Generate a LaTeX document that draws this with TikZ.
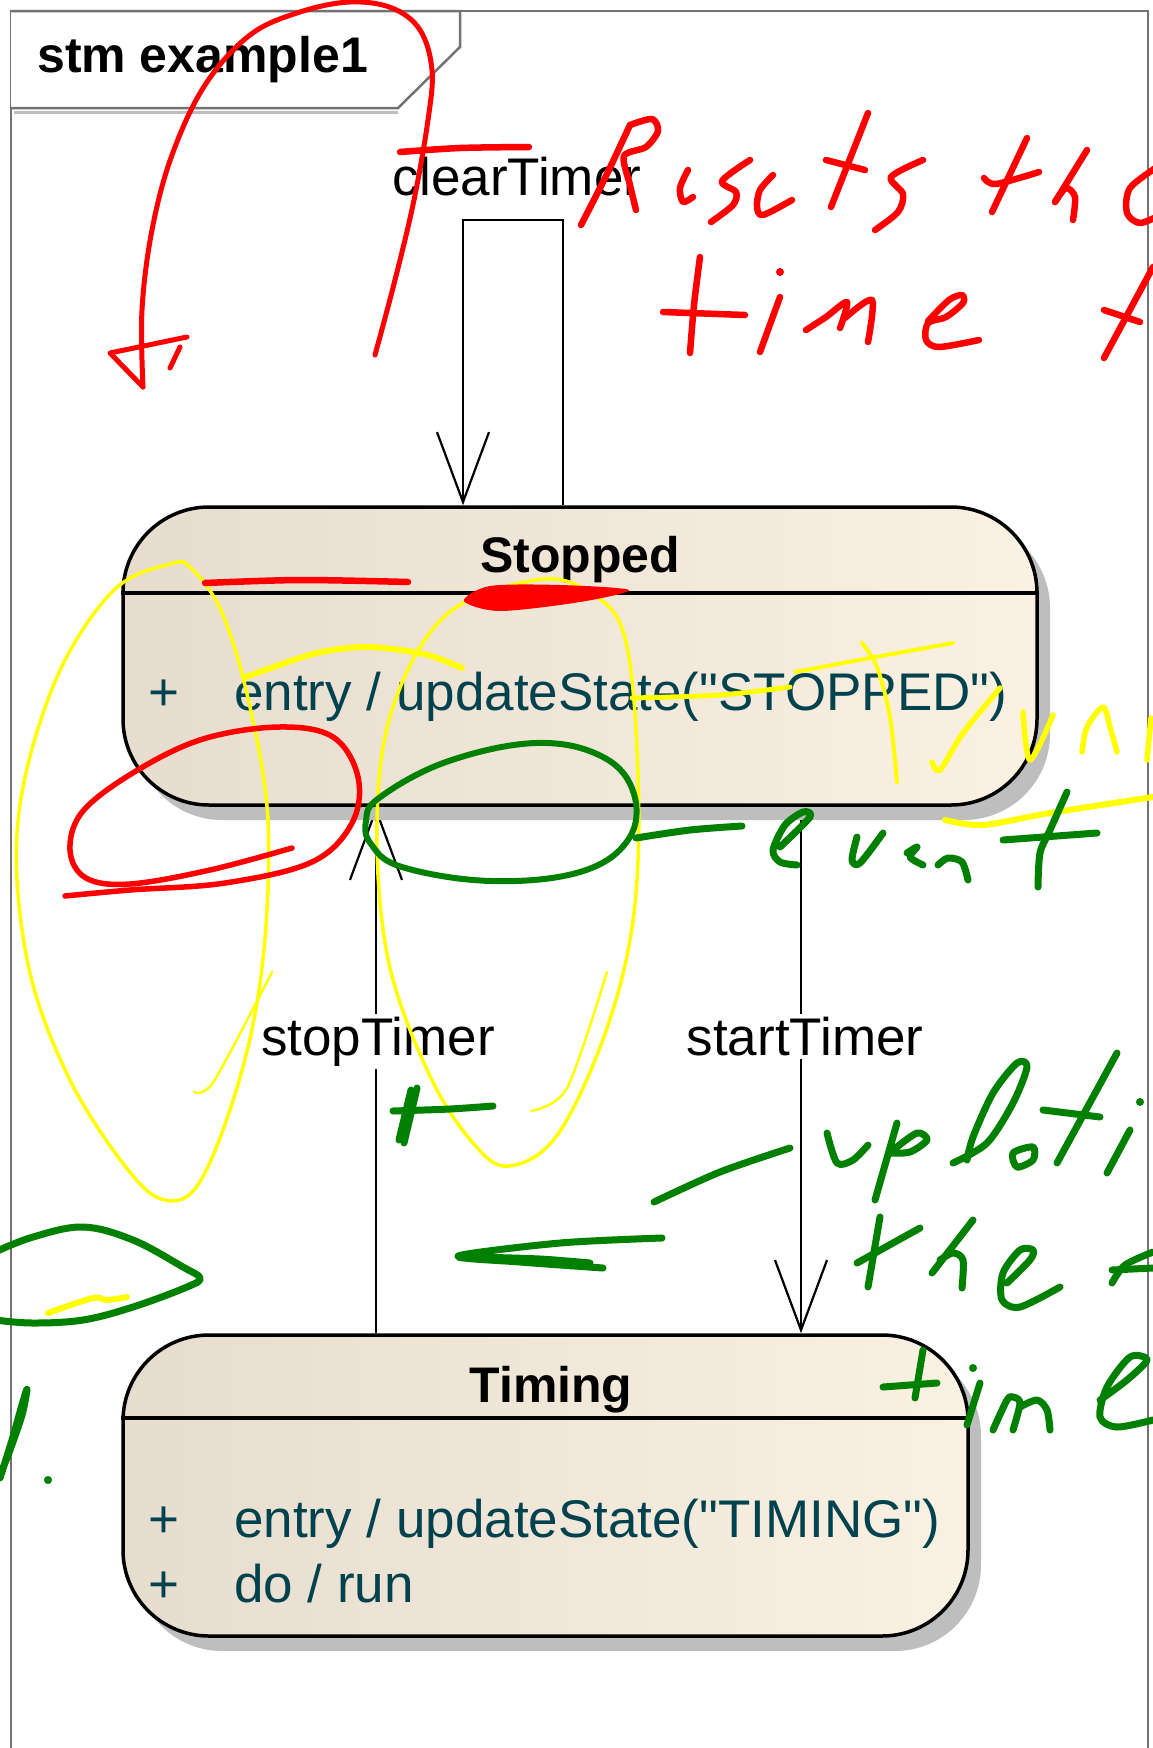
\documentclass[tikz,border=0pt]{standalone}
\usepackage{fontspec}
\newfontfamily\umlfont{Liberation Sans}
\usetikzlibrary{arrows.meta,shadows}
\pgfdeclarelayer{bg}
\pgfdeclarelayer{edges}
\pgfsetlayers{bg,edges,main}

\definecolor{stateL}{RGB}{231,221,206}
\definecolor{stateR}{RGB}{251,241,227}
\definecolor{shadowgray}{RGB}{190,190,190}
\definecolor{itemteal}{RGB}{0,66,78}
\definecolor{framegray}{RGB}{115,115,115}
\definecolor{inkred}{RGB}{255,0,0}
\definecolor{inkyellow}{RGB}{255,255,0}
\definecolor{inkgreen}{RGB}{0,128,0}

\tikzset{
  umlstate/.style={rectangle, rounded corners=86pt, draw=black, line width=3.5pt,
    left color=stateL, right color=stateR, inner sep=0pt,
    drop shadow={shadow xshift=13pt, shadow yshift=-15pt, fill=shadowgray, opacity=1}},
  statename/.style={font=\umlfont\bfseries\fontsize{50}{60}\selectfont, text=black, inner sep=0pt},
  stateitem/.style={font=\umlfont\fontsize{53}{62}\selectfont, text=itemteal, inner sep=0pt},
  tlabel/.style={font=\umlfont\fontsize{53}{62}\selectfont, text=black, fill=white, inner sep=3pt},
  trans/.style={draw=black, line width=2.2pt, -{Straight Barb[length=70pt, width=52pt]}},
  divider/.style={draw=black, line width=3.5pt},
  frameline/.style={draw=framegray, line width=2.5pt},
  inkR/.style={draw=inkred, line width=6.5pt, line cap=round, line join=round},
  inkY/.style={draw=inkyellow, line width=3.5pt, line cap=round, line join=round},
  inkG/.style={draw=inkgreen, line width=7pt, line cap=round, line join=round},
}

\begin{document}
\begin{tikzpicture}[x=1pt, y=-1pt]
\useasboundingbox (0,0) rectangle (1153,1748);
\begin{pgfonlayer}{bg}
\fill[white] (0,0) rectangle (1153,1748);
\end{pgfonlayer}
\clip (0,0) rectangle (1153,1748);

% diagram frame and its name tab
\draw[frameline] (11,1760) -- (11,11) -- (1148,11) -- (1148,1760);
\draw[shadowgray, line width=3pt] (14,112) -- (398,112);
\draw[frameline, fill=white] (11,11) -- (460,11) -- (460,47) -- (398,108) -- (11,108);
\node[statename, anchor=base west] (title) at (37,72) {stm example1};

% states
\node[umlstate, minimum width=914pt, minimum height=298pt] (stopped) at (580,656) {};
\draw[divider] (stopped.west |- 0,593) -- (stopped.east |- 0,593);
\node[statename, anchor=base] (stoppedname) at (580,572) {Stopped};
\node[stateitem, anchor=base] (stoppedplus) at (164,710) {+};
\node[stateitem, anchor=base west] (stoppedentry) at (234,710) {entry / updateState("STOPPED")};

\node[umlstate, minimum width=845pt, minimum height=301pt] (timing) at (545.5,1485.5) {};
\draw[divider] (timing.west |- 0,1418) -- (timing.east |- 0,1418);
\node[statename, anchor=base] (timingname) at (551,1402) {Timing};
\node[stateitem, anchor=base] (tplusa) at (164,1537) {+};
\node[stateitem, anchor=base west] (tentry) at (234,1537) {entry / updateState("TIMING")};
\node[stateitem, anchor=base] (tplusb) at (164,1602) {+};
\node[stateitem, anchor=base west] (tdo) at (234,1602) {do / run};

% transitions, kept beneath the states so the shadow overlaps them
\begin{pgfonlayer}{edges}
\coordinate (loopR) at (563,220);
\coordinate (loopL) at (463,220);
\coordinate (stopX) at (376,0);
\coordinate (startX) at (801,0);
\draw[trans] (stopped.north -| loopR) -- (loopR) -- (loopL) -- (stopped.north -| loopL);
\node[tlabel, fill=none, anchor=base] (clearlbl) at (517,195) {clearTimer};
\draw[trans] (timing.north -| stopX) -- (stopped.south -| stopX);
\node[tlabel, anchor=base] (stoplbl) at (378,1055) {stopTimer};
\draw[trans] (stopped.south -| startX) -- (timing.north -| startX);
\node[tlabel, anchor=base] (startlbl) at (805,1055) {startTimer};
\end{pgfonlayer}

% ---- yellow pen ----
\draw[inkY] plot[smooth cycle, tension=0.6] coordinates {(170,564) (112,592) (54,684) (18,821) (27,959) (67,1074) (125,1166) (165,1200) (201,1180) (241,1074) (263,959) (268,821) (250,707) (223,615) (192,569)};
\draw[inkY, line width=2.5pt] plot[smooth] coordinates {(194,1092) (214,1081) (272,972)};
\draw[inkY] plot[smooth cycle, tension=0.6] coordinates {(536,580) (446,615) (393,707) (377,821) (388,959) (429,1074) (473,1143) (509,1166) (558,1134) (607,1028) (634,913) (638,775) (625,638) (589,592)};
\draw[inkY, line width=2.5pt] plot[smooth] coordinates {(531,1111) (567,1088) (607,972)};
\draw[inkY, line width=6pt] plot[smooth] coordinates {(246,677) (313,654) (366,647) (424,654) (462,668)};
\draw[inkY, line width=5pt] plot[smooth] coordinates {(632,698) (720,695) (790,687)};
\draw[inkY, line width=4pt] plot[smooth] coordinates {(795,672) (870,658) (953,643)};
\draw[inkY, line width=4pt] plot[smooth] coordinates {(862,643) (877,667) (890,717) (897,782)};
\draw[inkY, line width=5.5pt] plot[smooth] coordinates {(932,762) (940,770) (963,733) (1000,688)};
\draw[inkY, line width=5.5pt] plot[smooth] coordinates {(1023,712) (1030,760) (1053,715)};
\draw[inkY, line width=5.5pt] plot[smooth] coordinates {(1082,752) (1087,727) (1103,707) (1110,727) (1117,752)};
\draw[inkY, line width=5.5pt] (1151,718) -- (1147,760);
\draw[inkY, line width=6pt] plot[smooth] coordinates {(945,820) (983,825) (1050,813) (1153,797)};
\draw[inkY, line width=6pt] plot[smooth] coordinates {(48,1313) (93,1298) (107,1300) (127,1297)};

% ---- red pen ----
\draw[inkR, line width=5pt] plot[smooth, tension=0.6] coordinates {(375,355) (395,280) (414,200) (428,120) (432,70) (420,30) (392,8) (350,2) (300,12) (250,35) (205,85) (172,155) (152,230) (142,310) (143,387)};
\draw[inkR, line width=5pt] (143,387) -- (110,353) -- (187,337);
\draw[inkR, line width=5pt] (180,347) -- (170,368);
\draw[inkR] plot[smooth] coordinates {(400,152) (460,148) (529,147)};
% Resets the
\draw[inkR] plot[smooth] coordinates {(581,225) (605,178) (630,125)};
\draw[inkR] plot[smooth] coordinates {(630,125) (652,119) (658,131) (646,147) (624,156) (630,185) (636,210)};
\draw[inkR] plot[smooth] coordinates {(688,170) (680,188) (683,202) (693,197)};
\draw[inkR] plot[smooth] coordinates {(750,160) (722,181) (736,192) (733,205) (711,222)};
\draw[inkR] plot[smooth] coordinates {(773,175) (760,190) (757,207) (763,215) (792,200)};
\draw[inkR] (868,113) -- (831,207);
\draw[inkR] (826,160) -- (865,170);
\draw[inkR] plot[smooth] coordinates {(923,160) (891,177) (903,194) (898,212) (875,230)};
\draw[inkR] (1027,138) -- (992,212);
\draw[inkR] plot[smooth] coordinates {(984,178) (996,184) (1039,172)};
\draw[inkR] (1087,150) -- (1055,202);
\draw[inkR] plot[smooth] coordinates {(1055,202) (1066,188) (1075,197) (1073,220)};
\draw[inkR] plot[smooth] coordinates {(1160,165) (1130,188) (1127,213) (1140,223) (1160,215)};
% time f
\draw[inkR] plot[smooth] coordinates {(700,257) (694,305) (690,353)};
\draw[inkR] (663,312) -- (745,315);
\fill[inkred] (780,272) circle (4);
\draw[inkR] (780,297) -- (760,352);
\draw[inkR] plot[smooth] coordinates {(806,330) (826,317) (847,302) (840,328)};
\draw[inkR] plot[smooth] coordinates {(845,318) (872,300) (868,342)};
\draw[inkR] plot[smooth] coordinates {(928,321) (949,300) (962,295) (963,303) (946,317) (928,323) (926,340) (939,347) (979,340)};
\draw[inkR] (1153,267) -- (1104,358);
\draw[inkR] (1104,310) -- (1140,322);
% marks on the Stopped state
\draw[inkR] plot[smooth] coordinates {(205,583) (300,580) (408,582)};
\fill[inkred] plot[smooth cycle] coordinates {(464,601) (490,586) (560,585) (629,590) (580,602) (500,611)};
\draw[inkR, line width=5.5pt] plot[smooth, tension=0.6] coordinates {(65,896) (130,890) (225,883) (312,862) (352,823) (358,777) (333,737) (279,727) (203,739) (136,771) (83,811) (70,850) (86,878) (130,884) (210,870) (292,848)};

% ---- green pen ----
\draw[inkG, line width=6pt] plot[smooth cycle, tension=0.65] coordinates {(580,872) (491,881) (402,867) (371,844) (366,821) (379,798) (446,762) (536,743) (603,757) (634,794) (628,840)};
\draw[inkG] plot[smooth] coordinates {(636,838) (690,830) (742,826)};
% event
\draw[inkG] plot[smooth] coordinates {(780,847) (810,817) (803,812) (785,825) (773,850) (780,862) (797,865)};
\draw[inkG] plot[smooth] coordinates {(857,837) (852,860) (860,863) (883,833)};
\draw[inkG] plot[smooth] coordinates {(907,853) (917,847) (910,857) (923,865)};
\draw[inkG] plot[smooth] coordinates {(938,865) (948,858) (962,862) (968,880)};
\draw[inkG] plot[smooth] coordinates {(1067,792) (1050,830) (1040,853) (1038,887)};
\draw[inkG] (1003,840) -- (1097,833);
% strokes between the transitions
\draw[inkG] (417,1088) -- (404,1143);
\draw[inkG] (411,1090) -- (399,1140);
\draw[inkG] plot[smooth] coordinates {(393,1111) (450,1109) (493,1106)};
\draw[inkG] plot[smooth] coordinates {(662,1238) (560,1243) (458,1256) (520,1262) (603,1268)};
\draw[inkG] plot[smooth] coordinates {(475,1257) (540,1259) (590,1263)};
\draw[inkG] plot[smooth] coordinates {(654,1202) (720,1172) (790,1148)};
% updati
\draw[inkG] plot[smooth] coordinates {(827,1133) (837,1163) (853,1160) (868,1145)};
\draw[inkG] (897,1123) -- (875,1200);
\draw[inkG] plot[smooth] coordinates {(893,1150) (917,1133) (927,1140) (910,1152) (890,1153)};
\draw[inkG] plot[smooth] coordinates {(953,1163) (987,1143) (1013,1103) (1027,1067) (1017,1063) (993,1093) (973,1137) (967,1160)};
\draw[inkG] plot[smooth cycle] coordinates {(1013,1153) (1033,1147) (1033,1160) (1017,1167)};
\draw[inkG] (1117,1053) -- (1057,1163);
\draw[inkG] (1043,1110) -- (1100,1117);
\draw[inkG] (1130,1130) -- (1107,1173);
\fill[inkgreen] (1140,1102) circle (4);
% the
\draw[inkG] (880,1217) -- (868,1287);
\draw[inkG] (857,1263) -- (920,1228);
\draw[inkG] (973,1220) -- (932,1273);
\draw[inkG] plot[smooth] coordinates {(940,1260) (953,1253) (963,1260) (962,1288)};
\draw[inkG] plot[smooth] coordinates {(1007,1283) (1030,1260) (1033,1250) (1020,1250) (1003,1273) (1002,1300) (1020,1307) (1060,1287)};
\draw[inkG] plot[smooth] coordinates {(1112,1283) (1125,1265) (1153,1252)};
\draw[inkG] (1112,1270) -- (1153,1268);
% time
\draw[inkG] (883,1387) -- (937,1383);
\draw[inkG] (923,1350) -- (915,1398);
\fill[inkgreen] (973,1368) circle (4);
\draw[inkG] (980,1383) -- (967,1425);
\draw[inkG] plot[smooth] coordinates {(993,1430) (1007,1400) (1013,1397) (1020,1403) (1013,1430)};
\draw[inkG] plot[smooth] coordinates {(1020,1407) (1037,1400) (1047,1410) (1050,1430)};
\draw[inkG] plot[smooth] coordinates {(1100,1400) (1127,1380) (1147,1360) (1130,1357) (1107,1387) (1100,1417) (1117,1427) (1153,1420)};
% left edge
\draw[inkG] plot[smooth, tension=0.6] coordinates {(-5,1252) (33,1237) (83,1227) (133,1240) (183,1267) (200,1278) (187,1287) (133,1307) (83,1320) (33,1323) (-5,1320)};
\draw[inkG] plot[smooth] coordinates {(0,1478) (12,1440) (24,1398) (27,1390) (22,1415) (10,1450) (2,1470)};
\fill[inkgreen] (48,1480) circle (4);
\end{tikzpicture}
\end{document}
